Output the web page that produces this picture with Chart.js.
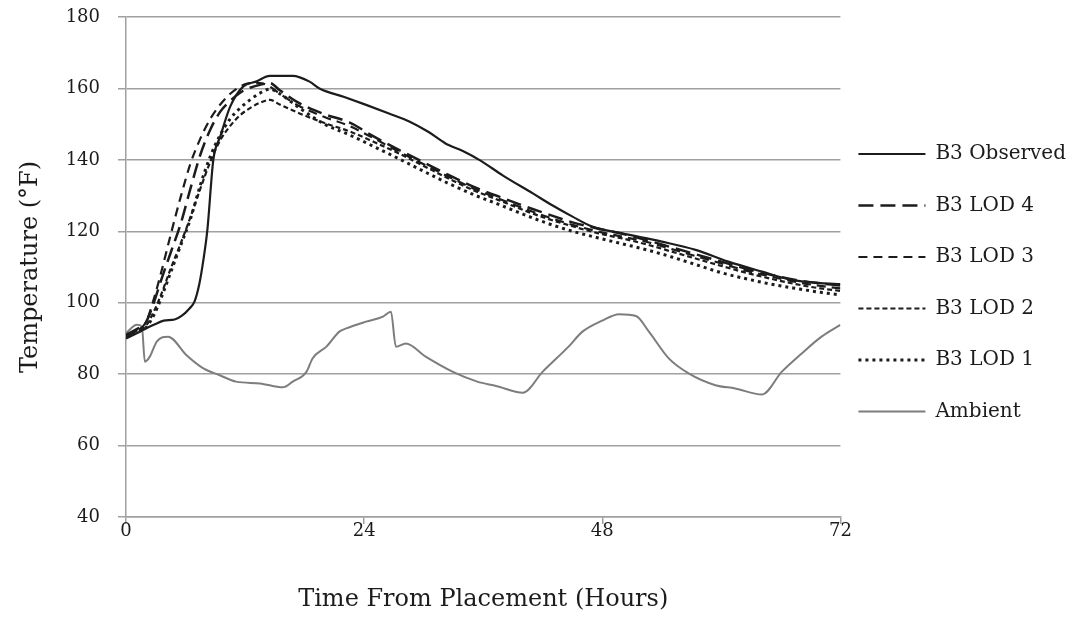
<!DOCTYPE html>
<html lang="en">
  <head>
    <meta charset="UTF-8" />
    <title>B3 Temperature</title>
    <style>
      body {
        margin: 0;
        background: white;
      }
      .wrap {
        width: 1071px;
        height: 617px;
      }
    </style>
  </head>
  <body>
    <div class="wrap"><canvas id="tempChart"></canvas></div>

    <script src="https://cdn.jsdelivr.net/npm/chart.js"></script>
    <script>
      // Observed
      const obsHours = [0, 1.4, 2.8, 3.8, 4.9, 5.6, 6.4, 6.9, 7.4, 7.8, 8.2, 8.8, 9.5, 10.5, 11.8, 13.1, 14.5, 16.8, 18.5, 19.5, 22, 24.2, 26.5, 28.6, 30.5, 32.2, 34, 35.6, 38, 41, 43, 45, 47, 50, 54, 57.4, 60.7, 64.1, 67.1, 70, 72];
      const obsTemp = [90, 91.9, 93.8, 95, 95.3, 96.3, 98.4, 100.3, 105.4, 112, 120.4, 140, 146.5, 154.9, 160.5, 161.9, 163.5, 163.5, 161.9, 160, 157.6, 155.4, 153, 150.7, 147.8, 144.6, 142.4, 140, 135.6, 130.6, 127.2, 124.1, 121.3, 119.4, 117.1, 114.8, 111.5, 108.7, 106.4, 105.5, 105.2];

      // Modelos (LOD)
      const modelHours = [0, 1, 2, 2.8, 3.5, 4.5, 5.5, 6.5, 7.5, 8.5, 9.5, 10.5, 11.5, 12.5, 13.5, 14.5, 15.5, 17.5, 20, 22.5, 25, 27.5, 30, 32.5, 35, 37.5, 40, 42.5, 45, 47.5, 50, 52.5, 55, 57.5, 60, 62.5, 65, 67.5, 70, 72];
      const lod4Temp = [91, 92.5, 94.5, 100, 106, 114, 122, 132, 141.5, 148.5, 153.5, 156.5, 158.8, 160.2, 161, 161.5, 159.5, 155.8, 152.8, 150.5, 146.5, 142.8, 139.3, 135.8, 132.5, 129.8, 127.2, 124.8, 122.5, 120.8, 119.3, 117.5, 115.5, 113.5, 111.5, 109.5, 107.8, 106.4, 105.4, 104.8];
      const lod3Temp = [90.5, 92, 94.5, 101, 108, 119, 129.5, 139, 146, 151.5, 155.5, 158.5, 160.5, 161.5, 161.5, 160.5, 158.5, 155, 152, 149.5, 146, 142.3, 138.8, 135.3, 132, 129.2, 126.5, 124, 121.8, 120, 118.5, 117, 115, 113, 111, 109, 107.3, 105.8, 104.7, 104];
      const lod2Temp = [90.5, 92, 93.5, 97.5, 102, 109.5, 116.5, 124, 132, 139.5, 145.5, 149.5, 152.5, 154.5, 156, 156.8, 155.5, 153, 150.3, 148, 145, 141.8, 138.3, 134.8, 131.5, 128.8, 126, 123.5, 121.4, 119.5, 118, 116.3, 114.3, 112.3, 110.3, 108.4, 106.7, 105.2, 104, 103.3];
      const lod1Temp = [90.5, 91.8, 93, 96.5, 101, 108.5, 116, 123.5, 133, 141, 147, 151.5, 154.5, 156.8, 158.7, 159.8, 158.5, 154.5, 150, 147, 143.7, 140.3, 136.8, 133.4, 130.3, 127.6, 124.8, 122.2, 120, 118.2, 116.5, 114.8, 112.8, 110.6, 108.4, 106.7, 105.2, 104, 102.9, 102.2];

      // Ambiente
      const ambHours = [0, 1.1, 1.6, 1.9, 2.4, 3.1, 4.25, 6.1, 7.8, 9.45, 11.1, 13.5, 15.8, 16.8, 18.2, 18.8, 20.2, 21.5, 22.2, 24.2, 25.9, 26.7, 27.2, 28.2, 30.2, 32.9, 35.4, 37.3, 40, 42, 44.6, 46, 48, 49.7, 51.4, 52.7, 54.7, 56.7, 59.4, 61.4, 64.1, 66.1, 68.1, 70.1, 72];
      const ambTemp = [91.5, 93.8, 93.3, 83.5, 84.9, 89.1, 90.5, 85.3, 81.6, 79.7, 77.9, 77.4, 76.3, 77.9, 80.7, 84.4, 87.7, 91.9, 92.8, 94.7, 96.1, 97.5, 87.7, 88.6, 84.9, 80.7, 77.9, 76.7, 74.8, 80.7, 87.7, 91.9, 95, 96.8, 96.3, 91.9, 84.4, 80.2, 76.9, 76, 74.3, 80.7, 85.8, 90.5, 93.8];

      const seriesNames = ["B3 Observed", "B3 LOD 4", "B3 LOD 3", "B3 LOD 2", "B3 LOD 1", "Ambient"];
      const yTicks = [40, 60, 80, 100, 120, 140, 160, 180];
      const xTicks = [0, 24, 48, 72];

      function pts(xs, ys) {
        return xs.map((x, i) => ({ x: x, y: ys[i] }));
      }

      const gridGray = "#a0a0a0";
      const ink = "#1c1c1c";
      const serif = "'DejaVu Serif', serif";

      function line(label, data, color, dash, width) {
        return {
          label: label,
          data: data,
          borderColor: color,
          backgroundColor: "transparent",
          borderDash: dash,
          borderWidth: width,
          pointRadius: 0,
          cubicInterpolationMode: "monotone",
        };
      }

      new Chart(document.getElementById("tempChart"), {
        type: "line",
        data: {
          datasets: [
            line(seriesNames[0], pts(obsHours, obsTemp), ink, [], 2.2),
            line(seriesNames[1], pts(modelHours, lod4Temp), ink, [15, 7], 2.5),
            line(seriesNames[2], pts(modelHours, lod3Temp), ink, [9, 6], 2.2),
            line(seriesNames[3], pts(modelHours, lod2Temp), ink, [5, 3], 2.2),
            line(seriesNames[4], pts(modelHours, lod1Temp), ink, [3, 4], 3),
            line(seriesNames[5], pts(ambHours, ambTemp), "#7d7d7d", [], 2),
          ],
        },
        options: {
          responsive: true,
          maintainAspectRatio: false,
          animation: false,
          layout: { padding: { left: 8, top: 17, right: -5, bottom: 2 } },
          plugins: {
            tooltip: { enabled: false },
            legend: {
              position: "right",
              align: "start",
              title: {
                display: true,
                text: "",
                font: { size: 10, lineHeight: 1 },
                padding: { top: 99, bottom: 0 },
              },
              labels: {
                usePointStyle: true,
                pointStyle: "line",
                pointStyleWidth: 67,
                padding: 18,
                color: ink,
                font: { family: serif, size: 20, lineHeight: 1.675 },
                generateLabels: (chart) =>
                  Chart.defaults.plugins.legend.labels
                    .generateLabels(chart)
                    .map((item) => {
                      const ds = chart.data.datasets[item.datasetIndex];
                      return {
                        ...item,
                        text: [item.text],
                        strokeStyle: ds.borderColor,
                        lineDash: ds.borderDash,
                        lineWidth: ds.borderWidth,
                      };
                    }),
              },
            },
          },
          scales: {
            x: {
              type: "linear",
              min: 0,
              max: 72,
              afterBuildTicks: (axis) => {
                axis.ticks = xTicks.map((v) => ({ value: v }));
              },
              grid: {
                drawOnChartArea: false,
                drawTicks: true,
                tickLength: 7,
                color: gridGray,
                lineWidth: 1.5,
              },
              border: { display: true, color: gridGray, width: 1.5 },
              ticks: {
                color: ink,
                padding: -3,
                font: { family: serif, size: 18 },
              },
              title: {
                display: true,
                text: "Time From Placement (Hours)",
                color: ink,
                font: { family: serif, size: 24 },
                padding: { top: 45.6, bottom: 1 },
              },
            },
            y: {
              min: 40,
              max: 180,
              afterBuildTicks: (axis) => {
                axis.ticks = yTicks.map((v) => ({ value: v }));
              },
              afterFit: (axis) => {
                axis.width = 118;
                axis.paddingTop = 10;
                axis.paddingBottom = 10;
              },
              grid: {
                color: gridGray,
                lineWidth: 1.5,
                tickLength: 8,
              },
              border: { display: true, color: gridGray, width: 1.5 },
              ticks: {
                color: ink,
                padding: 18,
                font: { family: serif, size: 18 },
              },
              title: {
                display: true,
                text: "Temperature (°F)",
                color: ink,
                font: { family: serif, size: 24 },
                padding: { top: 8, bottom: 4 },
              },
            },
          },
        },
      });
    </script>
  </body>
</html>
